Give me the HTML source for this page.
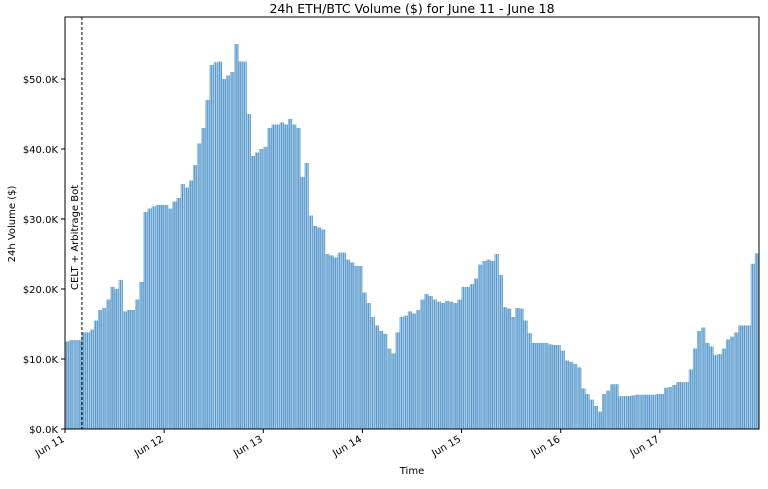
<!DOCTYPE html>
<html><head><meta charset="utf-8"><style>
body{margin:0;background:#fff;}
svg text{font-family:"DejaVu Sans","Liberation Sans",sans-serif;fill:#000;}
</style></head><body>
<svg id="chart" width="768" height="484" viewBox="0 0 768 484">
<defs>
<pattern id="stripes" patternUnits="userSpaceOnUse" width="2.066" height="10">
<rect x="0" y="0" width="1.3" height="10" fill="#5a9acc"/>
<rect x="1.3" y="0" width="0.766" height="10" fill="#afcfe7"/>
</pattern>
</defs>
<text x="412" y="13" text-anchor="middle" font-size="12.5">24h ETH/BTC Volume ($) for June 11 - June 18</text>
<g id="bars"></g>
<g id="axes"></g>
</svg>
<script>
const volumes = [12.5,12.7,12.7,12.7,13.8,13.8,14.2,15.5,17,17.3,18.5,20.3,20,21.3,16.8,17,17,18.5,21,31,31.5,31.8,32,32,
32,31.5,32.5,33,35,34.5,35.5,37.7,40.8,43,47,52,52.4,52.5,50,50.5,51,55,52.5,52.5,45,39,39.5,40,
40.3,43,43.5,43.5,43.8,43.5,44.3,43.5,43,36,38,30.5,29,28.8,28.5,25,24.8,24.5,25.2,25.2,24.2,23.8,23.3,23.3,
19.5,18,16,14.8,14,13.6,11.5,10.8,13.8,16,16.2,16.8,16.5,17,18.5,19.3,19,18.5,18.2,18,18.3,18.2,18,18.5,
20.3,20.3,20.7,21.5,23.5,24,24.2,24,25,22,17.4,17.2,16,17.3,17.2,15.5,13.7,12.3,12.3,12.3,12.3,12.1,12,12,
11.2,9.8,9.6,9.3,8.8,5.8,5,4.2,3.3,2.5,5,5.5,6.4,6.4,4.7,4.7,4.7,4.8,4.9,4.9,4.9,4.9,4.9,5,
5,5.9,6,6.3,6.7,6.7,6.7,8.5,11.5,14,14.5,12.3,11.8,10.6,10.7,11.5,12.8,13.2,13.8,14.8,14.8,14.8,23.6,25.1];
const yTicks = [0,10,20,30,40,50];
const yTickLabels = ["$0.0K","$10.0K","$20.0K","$30.0K","$40.0K","$50.0K"];
const xTickLabels = ["Jun 11","Jun 12","Jun 13","Jun 14","Jun 15","Jun 16","Jun 17"];
const eventHour = [4.1];
const eventLabel = ["CELT + Arbitrage Bot"];

const X0=65,X1=759,Y0=429,Y1=17;
const xs = h => X0 + h*(X1-X0)/168;
const ys = v => Y0 - v*7;
const NS="http://www.w3.org/2000/svg";
const bars=document.getElementById('bars'), axes=document.getElementById('axes');
function mk(tag,attrs,parent){const e=document.createElementNS(NS,tag);for(const k in attrs)e.setAttribute(k,attrs[k]);parent.appendChild(e);return e;}

volumes.forEach((v,i)=>{
  const r=mk('rect',{x:xs(i),y:ys(v),width:xs(i+1)-xs(i),height:Y0-ys(v),fill:'url(#stripes)'},bars);
  
  
});

const frame=mk('rect',{x:X0,y:Y1,width:X1-X0,height:Y0-Y1,fill:'none',stroke:'#000','stroke-width':1},axes);



yTicks.forEach((t,i)=>{
  const y=ys(t);
  mk('line',{x1:X0-4,x2:X0,y1:y,y2:y,stroke:'#000'},axes);
  const tx=mk('text',{x:X0-7,y:y+4,'text-anchor':'end','font-size':10},axes);
  tx.textContent=yTickLabels[i];
  
  
});
xTickLabels.forEach((l,i)=>{
  const x=xs(i*24);
  mk('line',{x1:x,x2:x,y1:Y0,y2:Y0+4,stroke:'#000'},axes);
  const tx=mk('text',{x:x,y:Y0+12,'text-anchor':'end','font-size':10,transform:`rotate(-30 ${x} ${Y0+12})`},axes);
  tx.textContent=l;
  
  
});
const ex=xs(eventHour[0]);
const dl=mk('line',{x1:ex,x2:ex,y1:Y1,y2:Y0,stroke:'#000','stroke-dasharray':'3,2','stroke-width':1},axes);


const et=mk('text',{x:ex-4,y:290,'font-size':10,transform:`rotate(-90 ${ex-4} 290)`},axes);
et.textContent=eventLabel[0];



const xl=mk('text',{x:412,y:474,'text-anchor':'middle','font-size':10},axes);
xl.textContent='Time';


const yl=mk('text',{x:15,y:224,'text-anchor':'middle','font-size':10,transform:'rotate(-90 15 224)'},axes);
yl.textContent='24h Volume ($)';


</script>
</body></html>
